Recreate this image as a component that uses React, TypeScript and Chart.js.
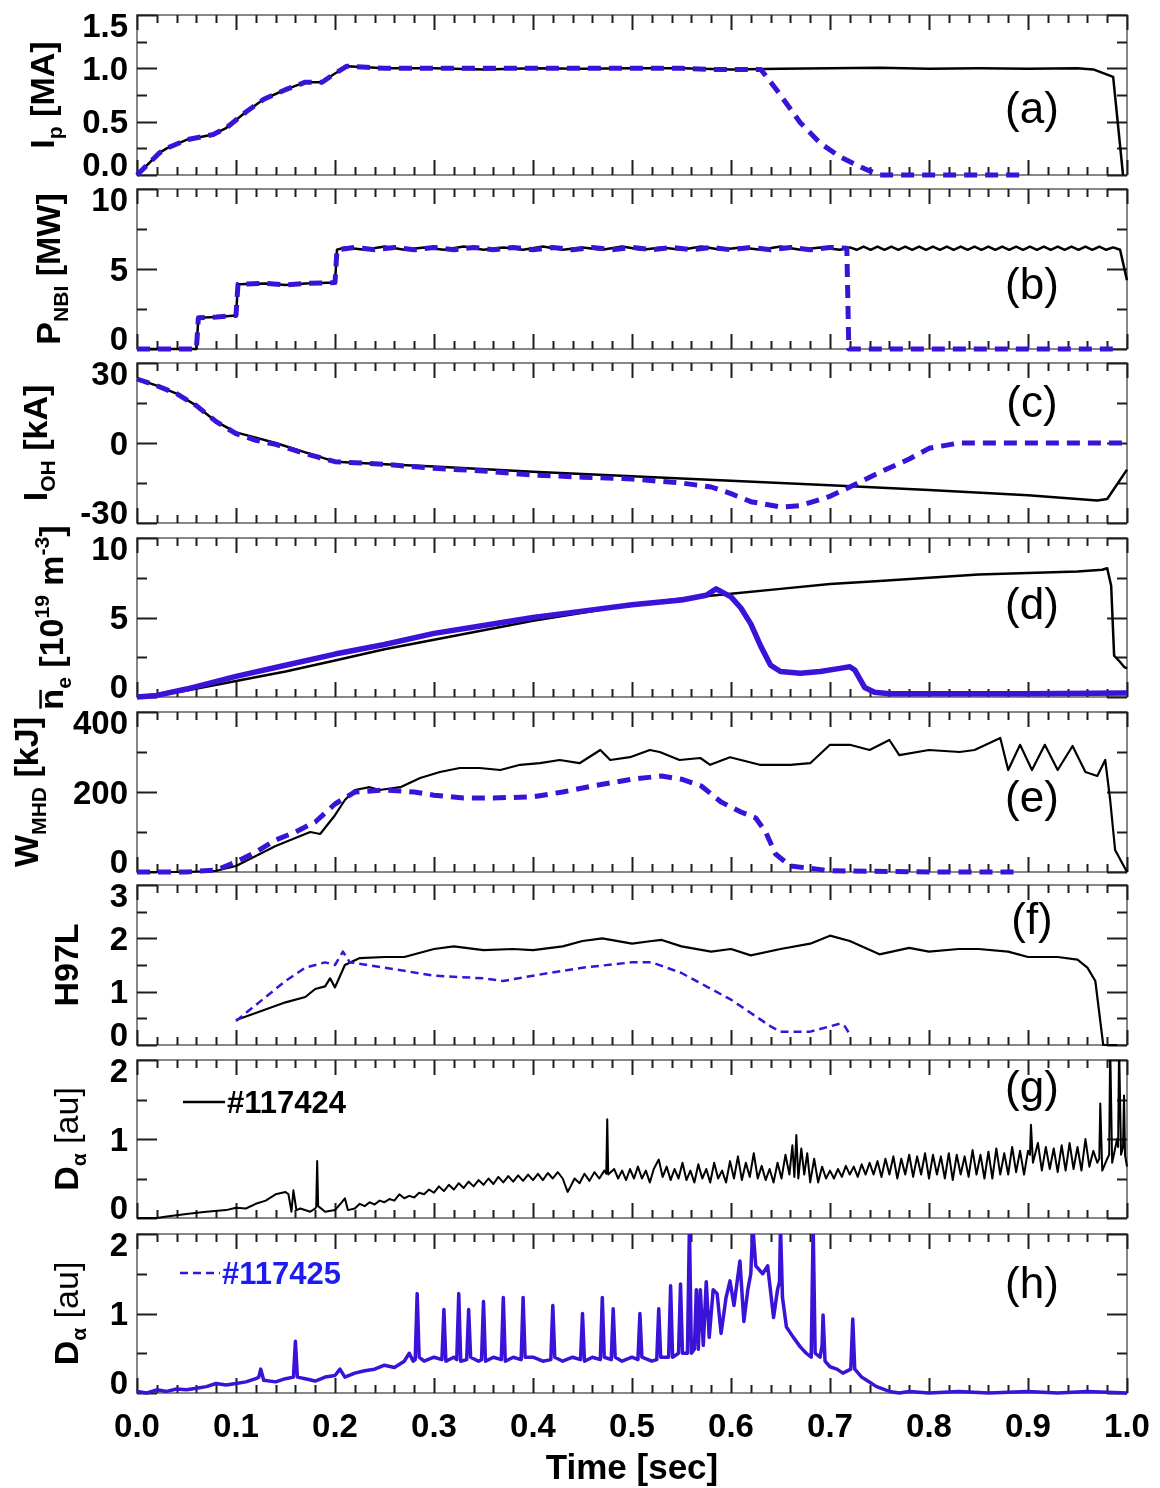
import { useEffect, useRef } from "react";
import { Chart, registerables } from "chart.js";

Chart.register(...registerables);

const W = 1160;
const H = 1488;
const PLOT_LEFT = 137;
const PLOT_RIGHT = 1127;
const FONT = '"Liberation Sans", Arial, Helvetica, sans-serif';
const BLACK = "#000000";
const BLUE = "#3a12d8";
const BLUE_TEXT = "#1c1cf0";
const FRAME = "#6a6a6a";
const TICK = "#1e1e1e";

// ---------------- shared time axis ----------------
const timeTicks = [0, 0.1, 0.2, 0.3, 0.4, 0.5, 0.6, 0.7, 0.8, 0.9, 1.0];
const timeTickLabels = ["0.0", "0.1", "0.2", "0.3", "0.4", "0.5", "0.6", "0.7", "0.8", "0.9", "1.0"];
const timeTitle = "Time [sec]";
const shotLabels = ["#117424", "#117425"];

// ---------------- (a) plasma current [MA] ----------------
const ip117424: [number, number][] = [
  [0, 0], [0.023, 0.21], [0.03, 0.25], [0.05, 0.33], [0.077, 0.38], [0.09, 0.44], [0.11, 0.59],
  [0.128, 0.71], [0.15, 0.8], [0.17, 0.87], [0.187, 0.87], [0.198, 0.94], [0.212, 1.02], [0.232, 1.01],
  [0.25, 1.0], [0.3, 1.0], [0.35, 0.99], [0.4, 1.0], [0.45, 0.995], [0.5, 1.0], [0.55, 1.0], [0.6, 0.99],
  [0.65, 0.995], [0.7, 1.0], [0.75, 1.005], [0.8, 0.995], [0.85, 1.0], [0.9, 0.995], [0.95, 1.0],
  [0.966, 0.99], [0.986, 0.92], [0.996, 0.0],
];
const ip117425: [number, number][] = [
  [0, 0], [0.023, 0.21], [0.03, 0.25], [0.05, 0.33], [0.077, 0.38], [0.09, 0.44], [0.11, 0.59],
  [0.128, 0.71], [0.15, 0.8], [0.17, 0.87], [0.187, 0.87], [0.198, 0.94], [0.212, 1.02], [0.232, 1.01],
  [0.25, 1.0], [0.3, 1.0], [0.35, 1.0], [0.4, 1.0], [0.45, 1.0], [0.5, 1.0], [0.55, 1.0], [0.576, 0.99],
  [0.63, 0.99], [0.646, 0.8], [0.67, 0.49], [0.69, 0.3], [0.71, 0.17], [0.737, 0.05], [0.75, 0.0],
  [0.8, 0.0], [0.85, 0.0], [0.895, 0.0],
];
const ipTicks = [0, 0.5, 1.0, 1.5];
const ipTickLabels = ["0.0", "0.5", "1.0", "1.5"];
const ipMinor = [0.25, 0.75, 1.25];

// ---------------- (b) NBI power [MW] ----------------
const pnbi117424: [number, number][] = [
  [0, 0], [0.06, 0], [0.062, 1.95], [0.08, 2.0], [0.1, 2.1], [0.102, 4.05], [0.13, 4.1], [0.15, 4.0],
  [0.17, 4.1], [0.2, 4.15], [0.202, 6.2], [0.21, 6.35], [0.23, 6.2], [0.25, 6.4], [0.27, 6.2], [0.29, 6.35],
  [0.31, 6.2], [0.33, 6.4], [0.35, 6.2], [0.37, 6.35], [0.39, 6.2], [0.41, 6.4], [0.43, 6.2], [0.45, 6.35],
  [0.47, 6.2], [0.49, 6.4], [0.51, 6.2], [0.53, 6.35], [0.55, 6.2], [0.57, 6.4], [0.59, 6.2], [0.61, 6.35],
  [0.63, 6.2], [0.65, 6.4], [0.67, 6.2], [0.69, 6.35], [0.71, 6.2], [0.72, 6.35], [0.727, 6.2], [0.734, 6.4],
  [0.741, 6.2], [0.748, 6.4], [0.755, 6.2], [0.762, 6.4], [0.769, 6.2], [0.776, 6.4], [0.783, 6.2],
  [0.79, 6.4], [0.797, 6.2], [0.804, 6.4], [0.811, 6.2], [0.818, 6.4], [0.825, 6.2], [0.832, 6.4],
  [0.839, 6.2], [0.846, 6.4], [0.853, 6.2], [0.86, 6.4], [0.867, 6.2], [0.874, 6.4], [0.881, 6.2],
  [0.888, 6.4], [0.895, 6.2], [0.902, 6.4], [0.909, 6.2], [0.916, 6.4], [0.923, 6.2], [0.93, 6.4],
  [0.937, 6.2], [0.944, 6.4], [0.951, 6.2], [0.958, 6.4], [0.965, 6.2], [0.972, 6.4], [0.979, 6.2],
  [0.986, 6.35], [0.993, 6.2], [1.0, 4.3],
];
const pnbi117425: [number, number][] = [
  [0, 0], [0.06, 0], [0.062, 1.95], [0.08, 2.0], [0.1, 2.1], [0.102, 4.05], [0.13, 4.1], [0.15, 4.0],
  [0.17, 4.1], [0.2, 4.15], [0.202, 6.2], [0.22, 6.35], [0.24, 6.2], [0.26, 6.35], [0.28, 6.2], [0.3, 6.35],
  [0.32, 6.2], [0.34, 6.35], [0.36, 6.2], [0.38, 6.35], [0.4, 6.2], [0.42, 6.35], [0.44, 6.2], [0.46, 6.35],
  [0.48, 6.2], [0.5, 6.35], [0.52, 6.2], [0.54, 6.35], [0.56, 6.2], [0.58, 6.35], [0.6, 6.2], [0.62, 6.35],
  [0.64, 6.2], [0.66, 6.35], [0.68, 6.2], [0.7, 6.35], [0.717, 6.3], [0.719, 0], [0.75, 0], [0.8, 0],
  [0.85, 0], [0.9, 0], [0.95, 0], [0.99, 0],
];
const pnbiTicks = [0, 5, 10];
const pnbiTickLabels = ["0", "5", "10"];
const pnbiMinor = [2.5, 7.5];

// ---------------- (c) OH coil current [kA] ----------------
const ioh117424: [number, number][] = [
  [0, 24], [0.02, 21.5], [0.04, 18.5], [0.06, 14], [0.08, 8], [0.1, 4], [0.12, 2], [0.14, 0],
  [0.17, -3.5], [0.2, -7], [0.25, -8], [0.3, -8.8], [0.4, -10.8], [0.5, -12.5], [0.6, -14.2],
  [0.7, -15.8], [0.8, -17.6], [0.9, -19.6], [0.97, -21.6], [0.98, -21], [1.0, -10],
];
const ioh117425: [number, number][] = [
  [0, 24], [0.02, 21.5], [0.04, 18.5], [0.06, 14], [0.08, 8], [0.1, 3.5], [0.12, 1], [0.14, -0.5],
  [0.17, -4], [0.2, -7], [0.25, -8], [0.3, -9.5], [0.35, -10.5], [0.4, -12], [0.45, -12.8], [0.5, -13.5],
  [0.55, -15], [0.58, -16.5], [0.6, -19], [0.62, -22], [0.65, -24], [0.67, -23.5], [0.7, -20],
  [0.72, -16.5], [0.75, -11], [0.78, -6], [0.8, -2], [0.83, 0], [0.9, 0], [1.0, 0],
];
const iohTicks = [-30, 0, 30];
const iohTickLabels = ["-30", "0", "30"];
const iohMinor = [-15, 15];

// ---------------- (d) line-averaged density [1e19 m^-3] ----------------
const ne117424: [number, number][] = [
  [0, 0], [0.02, 0.1], [0.05, 0.4], [0.1, 1.0], [0.15, 1.6], [0.2, 2.3], [0.25, 3.0], [0.3, 3.6],
  [0.35, 4.2], [0.4, 4.8], [0.45, 5.3], [0.5, 5.8], [0.55, 6.2], [0.6, 6.5], [0.65, 6.8], [0.7, 7.1],
  [0.75, 7.3], [0.8, 7.5], [0.85, 7.7], [0.9, 7.8], [0.95, 7.9], [0.975, 8.0], [0.98, 8.1], [0.984, 7.0],
  [0.987, 2.6], [0.993, 2.2], [0.997, 1.9], [1.0, 1.8],
];
const ne117425: [number, number][] = [
  [0, 0], [0.02, 0.1], [0.05, 0.5], [0.1, 1.3], [0.15, 2.0], [0.2, 2.7], [0.25, 3.3], [0.3, 4.0],
  [0.35, 4.5], [0.4, 5.0], [0.45, 5.4], [0.5, 5.8], [0.55, 6.1], [0.575, 6.4], [0.585, 6.8], [0.6, 6.3],
  [0.61, 5.6], [0.62, 4.6], [0.63, 3.2], [0.64, 2.0], [0.65, 1.6], [0.67, 1.5], [0.69, 1.6], [0.71, 1.8],
  [0.72, 1.9], [0.725, 1.7], [0.735, 0.6], [0.745, 0.3], [0.76, 0.2], [0.8, 0.2], [0.9, 0.2], [1.0, 0.25],
];
const neTicks = [0, 5, 10];
const neTickLabels = ["0", "5", "10"];
const neMinor = [2.5, 7.5];

// ---------------- (e) stored energy [kJ] ----------------
const wmhd117424: [number, number][] = [
  [0, 0], [0.05, 0], [0.08, 3], [0.1, 15], [0.12, 40], [0.14, 65], [0.16, 85], [0.175, 100], [0.185, 95],
  [0.2, 142], [0.21, 180], [0.22, 205], [0.235, 212], [0.245, 205], [0.266, 212], [0.286, 235],
  [0.306, 250], [0.326, 260], [0.346, 260], [0.367, 255], [0.387, 268], [0.407, 272], [0.427, 280],
  [0.447, 272], [0.468, 305], [0.478, 280], [0.498, 287], [0.518, 305], [0.528, 300], [0.548, 280],
  [0.569, 285], [0.579, 268], [0.599, 287], [0.629, 268], [0.66, 268], [0.68, 272], [0.7, 318],
  [0.72, 318], [0.74, 305], [0.76, 330], [0.77, 292], [0.8, 305], [0.831, 300], [0.846, 305],
  [0.872, 335], [0.88, 255], [0.892, 318], [0.904, 255], [0.917, 318], [0.93, 255], [0.945, 315],
  [0.958, 250], [0.97, 240], [0.978, 280], [0.983, 180], [0.988, 55], [1.0, 0],
];
const wmhd117425: [number, number][] = [
  [0, 0], [0.05, 0], [0.08, 5], [0.1, 25], [0.12, 50], [0.14, 80], [0.16, 100], [0.18, 125], [0.2, 170],
  [0.22, 200], [0.25, 205], [0.28, 200], [0.3, 192], [0.33, 185], [0.36, 185], [0.4, 188], [0.43, 200],
  [0.46, 215], [0.5, 232], [0.53, 240], [0.55, 232], [0.57, 215], [0.59, 175], [0.61, 150], [0.625, 135],
  [0.635, 100], [0.645, 45], [0.66, 15], [0.7, 3], [0.8, 0], [0.89, 0],
];
const wmhdTicks = [0, 200, 400];
const wmhdTickLabels = ["0", "200", "400"];
const wmhdMinor = [100, 300];

// ---------------- (f) H97L confinement factor ----------------
const h97l117424: [number, number][] = [
  [0.1, 0.47], [0.12, 0.6], [0.15, 0.8], [0.17, 0.9], [0.18, 1.05], [0.19, 1.1], [0.195, 1.25], [0.2, 1.08],
  [0.21, 1.5], [0.225, 1.63], [0.25, 1.65], [0.27, 1.65], [0.3, 1.8], [0.32, 1.85], [0.35, 1.78], [0.38, 1.8],
  [0.4, 1.78], [0.43, 1.85], [0.45, 1.95], [0.47, 2.0], [0.5, 1.9], [0.52, 1.95], [0.53, 1.97], [0.55, 1.85],
  [0.58, 1.75], [0.6, 1.8], [0.62, 1.68], [0.65, 1.8], [0.68, 1.9], [0.7, 2.05], [0.72, 1.95], [0.75, 1.7],
  [0.78, 1.82], [0.8, 1.75], [0.83, 1.8], [0.85, 1.8], [0.88, 1.75], [0.9, 1.65], [0.93, 1.65], [0.95, 1.6],
  [0.96, 1.45], [0.968, 1.2], [0.976, 0.0], [0.99, 0.0],
];
const h97l117425: [number, number][] = [
  [0.1, 0.45], [0.12, 0.75], [0.15, 1.2], [0.17, 1.45], [0.19, 1.55], [0.2, 1.5], [0.208, 1.75],
  [0.215, 1.55], [0.25, 1.45], [0.3, 1.3], [0.35, 1.25], [0.37, 1.2], [0.4, 1.3], [0.45, 1.45], [0.5, 1.55],
  [0.52, 1.55], [0.55, 1.35], [0.57, 1.15], [0.6, 0.85], [0.62, 0.6], [0.64, 0.35], [0.65, 0.25],
  [0.68, 0.25], [0.7, 0.35], [0.71, 0.4], [0.715, 0.35], [0.72, 0.2],
];
const h97lTicks = [0, 1, 2, 3];
const h97lTickLabels = ["0", "1", "2", "3"];
const h97lMinor = [0.5, 1.5, 2.5];

// ---------------- (g) D-alpha #117424 [au] ----------------
const dalpha117424: [number, number][] = [
  [0, 0], [0.02, 0], [0.03, 0.02], [0.05, 0.05], [0.07, 0.08], [0.09, 0.1], [0.1, 0.13], [0.11, 0.12],
  [0.12, 0.18], [0.13, 0.22], [0.14, 0.3], [0.15, 0.33], [0.153, 0.3], [0.156, 0.08], [0.158, 0.35],
  [0.161, 0.1], [0.165, 0.12], [0.175, 0.08], [0.18, 0.12], [0.181, 0.14], [0.182, 0.72], [0.183, 0.15],
  [0.19, 0.08], [0.2, 0.1], [0.207, 0.2], [0.21, 0.25], [0.213, 0.1],
  [0.22, 0.12], [0.225, 0.18], [0.23, 0.15], [0.235, 0.2], [0.24, 0.17], [0.245, 0.22], [0.25, 0.2],
  [0.255, 0.24], [0.26, 0.22], [0.265, 0.3], [0.27, 0.25], [0.275, 0.28], [0.28, 0.26], [0.285, 0.32],
  [0.29, 0.3], [0.295, 0.36], [0.3, 0.32], [0.305, 0.4], [0.31, 0.34], [0.315, 0.42], [0.32, 0.36],
  [0.325, 0.44], [0.33, 0.38], [0.335, 0.46], [0.34, 0.4], [0.345, 0.48], [0.35, 0.42], [0.355, 0.5],
  [0.36, 0.43], [0.365, 0.52], [0.37, 0.45], [0.375, 0.53], [0.38, 0.46], [0.385, 0.54], [0.39, 0.47],
  [0.395, 0.55], [0.4, 0.48], [0.405, 0.56], [0.41, 0.48], [0.415, 0.57], [0.42, 0.5], [0.425, 0.58],
  [0.43, 0.5], [0.435, 0.33], [0.438, 0.4], [0.442, 0.5], [0.447, 0.44], [0.452, 0.56], [0.457, 0.47],
  [0.462, 0.58], [0.467, 0.5], [0.472, 0.6], [0.474, 0.56], [0.475, 1.25], [0.476, 0.55], [0.482, 0.62],
  [0.486, 0.5], [0.49, 0.6], [0.494, 0.48], [0.498, 0.62], [0.502, 0.5], [0.506, 0.65], [0.51, 0.5],
  [0.514, 0.6], [0.518, 0.45], [0.522, 0.62], [0.527, 0.74], [0.531, 0.52], [0.535, 0.65], [0.539, 0.48],
  [0.543, 0.62], [0.547, 0.5], [0.551, 0.7], [0.555, 0.48], [0.559, 0.6], [0.563, 0.45], [0.567, 0.68],
  [0.571, 0.5], [0.575, 0.62], [0.579, 0.45], [0.583, 0.7], [0.587, 0.5], [0.591, 0.6], [0.595, 0.45],
  [0.599, 0.72], [0.603, 0.5], [0.607, 0.78], [0.611, 0.48], [0.615, 0.7], [0.619, 0.52], [0.623, 0.82],
  [0.627, 0.5], [0.631, 0.66], [0.635, 0.48], [0.639, 0.62], [0.643, 0.45], [0.647, 0.7], [0.651, 0.5],
  [0.655, 0.8], [0.659, 0.55], [0.662, 0.92], [0.664, 0.52], [0.666, 1.05], [0.668, 0.5], [0.671, 0.88],
  [0.674, 0.55], [0.677, 0.82], [0.68, 0.45], [0.684, 0.75], [0.688, 0.45], [0.692, 0.65], [0.696, 0.5],
  [0.7, 0.6], [0.704, 0.5], [0.708, 0.62], [0.712, 0.52], [0.716, 0.66], [0.72, 0.55], [0.724, 0.65],
  [0.728, 0.52], [0.732, 0.68], [0.736, 0.55], [0.74, 0.7], [0.744, 0.55], [0.748, 0.72], [0.752, 0.52],
  [0.756, 0.75], [0.76, 0.55], [0.764, 0.78], [0.768, 0.5], [0.772, 0.75], [0.776, 0.55], [0.78, 0.8],
  [0.784, 0.52], [0.788, 0.78], [0.792, 0.55], [0.796, 0.82], [0.8, 0.5], [0.804, 0.8], [0.808, 0.55],
  [0.812, 0.78], [0.816, 0.5], [0.82, 0.82], [0.824, 0.48], [0.828, 0.8], [0.832, 0.55], [0.836, 0.78],
  [0.84, 0.52], [0.844, 0.86], [0.848, 0.55], [0.852, 0.8], [0.856, 0.5], [0.86, 0.84], [0.864, 0.5],
  [0.868, 0.88], [0.872, 0.55], [0.876, 0.82], [0.88, 0.55], [0.884, 0.9], [0.888, 0.58], [0.892, 0.85],
  [0.896, 0.55], [0.9, 0.85], [0.902, 0.8], [0.903, 1.18], [0.905, 0.7], [0.91, 0.95], [0.914, 0.6],
  [0.918, 0.9], [0.922, 0.62], [0.926, 0.88], [0.93, 0.58], [0.934, 0.92], [0.938, 0.6], [0.942, 0.95],
  [0.946, 0.62], [0.95, 0.9], [0.954, 0.6], [0.958, 1.0], [0.962, 0.65], [0.966, 0.85], [0.97, 0.7],
  [0.972, 0.75], [0.973, 1.45], [0.975, 0.6], [0.98, 0.75], [0.982, 0.8], [0.983, 2.2], [0.985, 0.7],
  [0.99, 1.0], [0.991, 0.9], [0.992, 2.2], [0.994, 0.8], [0.996, 0.9], [0.997, 1.55], [0.998, 0.8],
  [1.0, 0.65],
];

// ---------------- (h) D-alpha #117425 [au] ----------------
const dalpha117425: [number, number][] = [
  [0, 0.02], [0.01, 0.0], [0.02, 0.04], [0.03, 0.02], [0.04, 0.05], [0.05, 0.04], [0.06, 0.06],
  [0.07, 0.08], [0.08, 0.12], [0.09, 0.1], [0.1, 0.12], [0.11, 0.14], [0.12, 0.18], [0.123, 0.2],
  [0.125, 0.3], [0.128, 0.16], [0.14, 0.14], [0.15, 0.18], [0.158, 0.2], [0.16, 0.65], [0.162, 0.2],
  [0.17, 0.18], [0.18, 0.15], [0.19, 0.2], [0.2, 0.22], [0.205, 0.3], [0.21, 0.2], [0.22, 0.25],
  [0.23, 0.28], [0.24, 0.3], [0.25, 0.35], [0.26, 0.32], [0.27, 0.4], [0.275, 0.5], [0.279, 0.4],
  [0.281, 0.42], [0.283, 1.25], [0.285, 0.45], [0.29, 0.4], [0.3, 0.45], [0.308, 0.42], [0.31, 1.05],
  [0.312, 0.4], [0.32, 0.45], [0.323, 0.42], [0.325, 1.25], [0.327, 0.4], [0.333, 0.42], [0.335, 1.05],
  [0.337, 0.45], [0.345, 0.4], [0.348, 0.42], [0.35, 1.15], [0.352, 0.4], [0.36, 0.45], [0.368, 0.42],
  [0.37, 1.2], [0.372, 0.4], [0.38, 0.45], [0.388, 0.42], [0.39, 1.2], [0.392, 0.45], [0.4, 0.45],
  [0.41, 0.4], [0.418, 0.42], [0.42, 1.1], [0.422, 0.45], [0.43, 0.4], [0.44, 0.45], [0.448, 0.42],
  [0.45, 1.0], [0.452, 0.4], [0.46, 0.45], [0.468, 0.42], [0.47, 1.2], [0.472, 0.45], [0.479, 0.42],
  [0.481, 1.06], [0.483, 0.45], [0.49, 0.4], [0.5, 0.45], [0.506, 0.42], [0.508, 1.0], [0.51, 0.45],
  [0.52, 0.4], [0.525, 0.42], [0.527, 1.06], [0.529, 0.45], [0.537, 0.45], [0.539, 1.35], [0.541, 0.45],
  [0.547, 0.5], [0.549, 1.37], [0.551, 0.5], [0.556, 0.5], [0.558, 2.1], [0.56, 0.5], [0.563, 0.55],
  [0.565, 1.3], [0.567, 0.55], [0.569, 1.3], [0.572, 0.6], [0.575, 1.4], [0.578, 0.7], [0.582, 1.3],
  [0.586, 1.25], [0.59, 0.75], [0.595, 1.2], [0.599, 1.41], [0.603, 1.1], [0.609, 1.66], [0.613, 0.9],
  [0.617, 1.3], [0.62, 1.5], [0.622, 2.1], [0.625, 1.6], [0.632, 1.5], [0.637, 1.6], [0.643, 0.95],
  [0.647, 1.3], [0.649, 1.4], [0.65, 2.1], [0.652, 1.2], [0.656, 0.83], [0.663, 0.7], [0.67, 0.58],
  [0.676, 0.5], [0.681, 0.45], [0.683, 2.1], [0.685, 0.5], [0.69, 0.45], [0.692, 0.6], [0.693, 0.98],
  [0.695, 0.4], [0.7, 0.33], [0.707, 0.3], [0.713, 0.25], [0.721, 0.3], [0.723, 0.93], [0.725, 0.3],
  [0.732, 0.2], [0.737, 0.16], [0.747, 0.08], [0.76, 0.02], [0.77, 0.0], [0.78, 0.02], [0.8, 0.0],
  [0.83, 0.02], [0.86, 0.0], [0.9, 0.02], [0.93, 0.0], [0.96, 0.02], [1.0, 0.0],
];
const dalphaTicks = [0, 1, 2];
const dalphaTickLabels = ["0", "1", "2"];
const dalphaMinor = [0.5, 1.5];

// ---------------- rendering helpers ----------------
type Seg = { t: string; k?: "sub" | "sup"; light?: boolean; over?: boolean };

interface LegendSpec {
  text: string;
  color: string;
  lineColor: string;
  dash: number[];
  x0: number;
  x1: number;
  y: number;
}

interface PanelSpec {
  id: string;
  top: number;
  bottom: number;
  yMin: number;
  yMax: number;
  yTicks: number[];
  yTickLabels: string[];
  yMinor: number[];
  title: Seg[];
  titleBaseX: number;
  label: string;
  labelY: number;
  datasets: any[];
  clipTop: number;
  legend?: LegendSpec;
  xAxis?: boolean;
}

const toXY = (pts: [number, number][]) => pts.map(([x, y]) => ({ x, y }));

const lineDs = (pts: [number, number][], color: string, width: number, dash: number[] = []) => ({
  data: toXY(pts),
  borderColor: color,
  backgroundColor: color,
  borderWidth: width,
  borderDash: dash,
  borderJoinStyle: "round",
  borderCapStyle: "butt",
  pointRadius: 0,
  tension: 0,
  fill: false,
});

const minorTimeTicks: number[] = [];
for (let i = 1; i < 50; i++) if (i % 5 !== 0) minorTimeTicks.push(i / 50);

const TICK_FONT = 33;
const TITLE_FONT = 34;

function fontStr(size: number, light?: boolean) {
  return `${light ? "" : "bold "}${size}px ${FONT}`;
}

function drawRich(ctx: CanvasRenderingContext2D, segs: Seg[], size: number) {
  const items = segs.map((s) => {
    const sz = s.k ? size * 0.62 : size;
    ctx.font = fontStr(sz, s.light);
    return { s, sz, w: ctx.measureText(s.t).width };
  });
  const total = items.reduce((a, b) => a + b.w, 0);
  let x = -total / 2;
  for (const it of items) {
    ctx.font = fontStr(it.sz, it.s.light);
    const dy = it.s.k === "sub" ? size * 0.24 : it.s.k === "sup" ? -size * 0.42 : 0;
    ctx.fillText(it.s.t, x, dy);
    if (it.s.over) {
      ctx.save();
      ctx.lineWidth = 2.5;
      ctx.beginPath();
      ctx.moveTo(x + 1, -size * 0.66);
      ctx.lineTo(x + it.w - 1, -size * 0.66);
      ctx.stroke();
      ctx.restore();
    }
    x += it.w;
  }
}

function makeDeco(spec: PanelSpec) {
  return {
    id: "deco_" + spec.id,
    beforeDatasetsDraw(chart: any) {
      const { ctx, chartArea: a, scales } = chart;
      const xs = scales.x;
      const ys = scales.y;
      ctx.save();
      ctx.strokeStyle = FRAME;
      ctx.lineWidth = 1.6;
      ctx.strokeRect(a.left, a.top, a.right - a.left, a.bottom - a.top);
      ctx.strokeStyle = TICK;
      ctx.lineWidth = 2;
      ctx.beginPath();
      for (const t of timeTicks) {
        const px = Math.round(xs.getPixelForValue(t)) + 0.5;
        ctx.moveTo(px, a.top);
        ctx.lineTo(px, a.top + 15);
        ctx.moveTo(px, a.bottom);
        ctx.lineTo(px, a.bottom - 15);
      }
      for (const t of minorTimeTicks) {
        const px = Math.round(xs.getPixelForValue(t)) + 0.5;
        ctx.moveTo(px, a.top);
        ctx.lineTo(px, a.top + 8);
        ctx.moveTo(px, a.bottom);
        ctx.lineTo(px, a.bottom - 8);
      }
      for (const v of spec.yTicks) {
        const py = Math.round(ys.getPixelForValue(v)) + 0.5;
        ctx.moveTo(a.left, py);
        ctx.lineTo(a.left + 20, py);
        ctx.moveTo(a.right, py);
        ctx.lineTo(a.right - 20, py);
      }
      for (const v of spec.yMinor) {
        const py = Math.round(ys.getPixelForValue(v)) + 0.5;
        ctx.moveTo(a.left, py);
        ctx.lineTo(a.left + 10, py);
        ctx.moveTo(a.right, py);
        ctx.lineTo(a.right - 10, py);
      }
      ctx.stroke();
      ctx.restore();
    },
    afterDraw(chart: any) {
      const { ctx, chartArea: a, scales } = chart;
      const xs = scales.x;
      const ys = scales.y;
      ctx.save();
      ctx.fillStyle = "#000";
      ctx.strokeStyle = "#000";
      ctx.font = fontStr(TICK_FONT);
      ctx.textAlign = "right";
      ctx.textBaseline = "alphabetic";
      const n = spec.yTicks.length;
      spec.yTicks.forEach((v, i) => {
        let cy = ys.getPixelForValue(v);
        if (i === 0) cy -= 11;
        if (i === n - 1) cy += 10;
        ctx.fillText(spec.yTickLabels[i], a.left - 9, cy + TICK_FONT * 0.358);
      });
      ctx.save();
      ctx.translate(spec.titleBaseX, (a.top + a.bottom) / 2);
      ctx.rotate(-Math.PI / 2);
      ctx.textAlign = "left";
      drawRich(ctx, spec.title, TITLE_FONT);
      ctx.restore();
      ctx.font = `44px ${FONT}`;
      ctx.textAlign = "center";
      ctx.textBaseline = "middle";
      ctx.fillText(spec.label, 1032, spec.labelY);
      if (spec.legend) {
        const lg = spec.legend;
        ctx.save();
        ctx.strokeStyle = lg.lineColor;
        ctx.lineWidth = 2.4;
        ctx.setLineDash(lg.dash);
        ctx.beginPath();
        ctx.moveTo(lg.x0, lg.y);
        ctx.lineTo(lg.x1, lg.y);
        ctx.stroke();
        ctx.restore();
        ctx.font = fontStr(31);
        ctx.fillStyle = lg.color;
        ctx.textAlign = "left";
        ctx.textBaseline = "alphabetic";
        ctx.fillText(lg.text, lg.x1 + 2, lg.y + 31 * 0.358);
      }
      if (spec.xAxis) {
        ctx.fillStyle = "#000";
        ctx.font = fontStr(TICK_FONT);
        ctx.textAlign = "center";
        ctx.textBaseline = "alphabetic";
        timeTicks.forEach((t, i) => {
          ctx.fillText(timeTickLabels[i], xs.getPixelForValue(t), 1425 + TICK_FONT * 0.358);
        });
        ctx.font = fontStr(35);
        ctx.fillText(timeTitle, xs.getPixelForValue(0.5), 1466 + 35 * 0.358);
      }
      ctx.restore();
    },
  };
}

const PANELS: PanelSpec[] = [
  {
    id: "a", top: 15, bottom: 175, yMin: 0, yMax: 1.5,
    yTicks: ipTicks, yTickLabels: ipTickLabels, yMinor: ipMinor,
    title: [{ t: "I" }, { t: "p", k: "sub" }, { t: " [MA]" }], titleBaseX: 54,
    label: "(a)", labelY: 111, clipTop: 4,
    datasets: [lineDs(ip117425, BLUE, 5, [13, 8]), lineDs(ip117424, BLACK, 2.5)],
  },
  {
    id: "b", top: 189, bottom: 349, yMin: 0, yMax: 10,
    yTicks: pnbiTicks, yTickLabels: pnbiTickLabels, yMinor: pnbiMinor,
    title: [{ t: "P" }, { t: "NBI", k: "sub" }, { t: " [MW]" }], titleBaseX: 60,
    label: "(b)", labelY: 287, clipTop: 4,
    datasets: [lineDs(pnbi117425, BLUE, 5, [13, 8]), lineDs(pnbi117424, BLACK, 2.5)],
  },
  {
    id: "c", top: 363, bottom: 523, yMin: -30, yMax: 30,
    yTicks: iohTicks, yTickLabels: iohTickLabels, yMinor: iohMinor,
    title: [{ t: "I" }, { t: "OH", k: "sub" }, { t: " [kA]" }], titleBaseX: 47,
    label: "(c)", labelY: 405, clipTop: 4,
    datasets: [lineDs(ioh117425, BLUE, 5, [13, 8]), lineDs(ioh117424, BLACK, 2.5)],
  },
  {
    id: "d", top: 538, bottom: 697, yMin: 0, yMax: 10,
    yTicks: neTicks, yTickLabels: neTickLabels, yMinor: neMinor,
    title: [
      { t: "n", over: true }, { t: "e", k: "sub" }, { t: " [10" }, { t: "19", k: "sup" },
      { t: " m" }, { t: "-3", k: "sup" }, { t: "]" },
    ],
    titleBaseX: 63,
    label: "(d)", labelY: 607, clipTop: 4,
    datasets: [lineDs(ne117425, BLUE, 5.5), lineDs(ne117424, BLACK, 2.5)],
  },
  {
    id: "e", top: 712, bottom: 872, yMin: 0, yMax: 400,
    yTicks: wmhdTicks, yTickLabels: wmhdTickLabels, yMinor: wmhdMinor,
    title: [{ t: "W" }, { t: "MHD", k: "sub" }, { t: " [kJ]" }], titleBaseX: 38,
    label: "(e)", labelY: 800, clipTop: 4,
    datasets: [lineDs(wmhd117425, BLUE, 5, [13, 8]), lineDs(wmhd117424, BLACK, 2.2)],
  },
  {
    id: "f", top: 885, bottom: 1045, yMin: 0, yMax: 3,
    yTicks: h97lTicks, yTickLabels: h97lTickLabels, yMinor: h97lMinor,
    title: [{ t: "H97L" }], titleBaseX: 78,
    label: "(f)", labelY: 922, clipTop: 4,
    datasets: [lineDs(h97l117425, BLUE, 2.5, [8, 5]), lineDs(h97l117424, BLACK, 2.2)],
  },
  {
    id: "g", top: 1060, bottom: 1218, yMin: 0, yMax: 2,
    yTicks: dalphaTicks, yTickLabels: dalphaTickLabels, yMinor: dalphaMinor,
    title: [{ t: "D" }, { t: "α", k: "sub" }, { t: " [au]", light: true }], titleBaseX: 78,
    label: "(g)", labelY: 1090, clipTop: 0,
    datasets: [lineDs(dalpha117424, BLACK, 2)],
    legend: { text: shotLabels[0], color: BLACK, lineColor: BLACK, dash: [], x0: 183, x1: 225, y: 1102 },
  },
  {
    id: "h", top: 1234, bottom: 1393, yMin: 0, yMax: 2,
    yTicks: dalphaTicks, yTickLabels: dalphaTickLabels, yMinor: dalphaMinor,
    title: [{ t: "D" }, { t: "α", k: "sub" }, { t: " [au]", light: true }], titleBaseX: 78,
    label: "(h)", labelY: 1286, clipTop: 0,
    datasets: [lineDs(dalpha117425, BLUE, 3.5)],
    legend: { text: shotLabels[1], color: BLUE_TEXT, lineColor: BLUE, dash: [8, 5], x0: 180, x1: 220, y: 1273 },
    xAxis: true,
  },
];

function Panel({ spec }: { spec: PanelSpec }) {
  const ref = useRef<HTMLCanvasElement>(null);
  useEffect(() => {
    const canvas = ref.current;
    if (!canvas) return;
    const clip = { left: 4, right: 4, top: spec.clipTop, bottom: 6 };
    const chart = new Chart(canvas, {
      type: "line",
      data: { datasets: spec.datasets.map((d) => ({ ...d, clip })) as any },
      options: {
        animation: false,
        responsive: false,
        devicePixelRatio: 1,
        events: [],
        layout: {
          padding: { left: PLOT_LEFT, right: W - PLOT_RIGHT, top: spec.top, bottom: H - spec.bottom },
        },
        scales: {
          x: { type: "linear", min: 0, max: 1, display: false },
          y: { type: "linear", min: spec.yMin, max: spec.yMax, display: false },
        },
        plugins: { legend: { display: false }, tooltip: { enabled: false } },
      },
      plugins: [makeDeco(spec)],
    });
    return () => chart.destroy();
  }, [spec]);
  return (
    <canvas
      ref={ref}
      width={W}
      height={H}
      style={{ position: "absolute", left: 0, top: 0, width: W, height: H }}
    />
  );
}

export default function App() {
  return (
    <div style={{ position: "absolute", left: 0, top: 0, width: W, height: H, background: "#ffffff" }}>
      {PANELS.map((p) => (
        <Panel key={p.id} spec={p} />
      ))}
    </div>
  );
}
